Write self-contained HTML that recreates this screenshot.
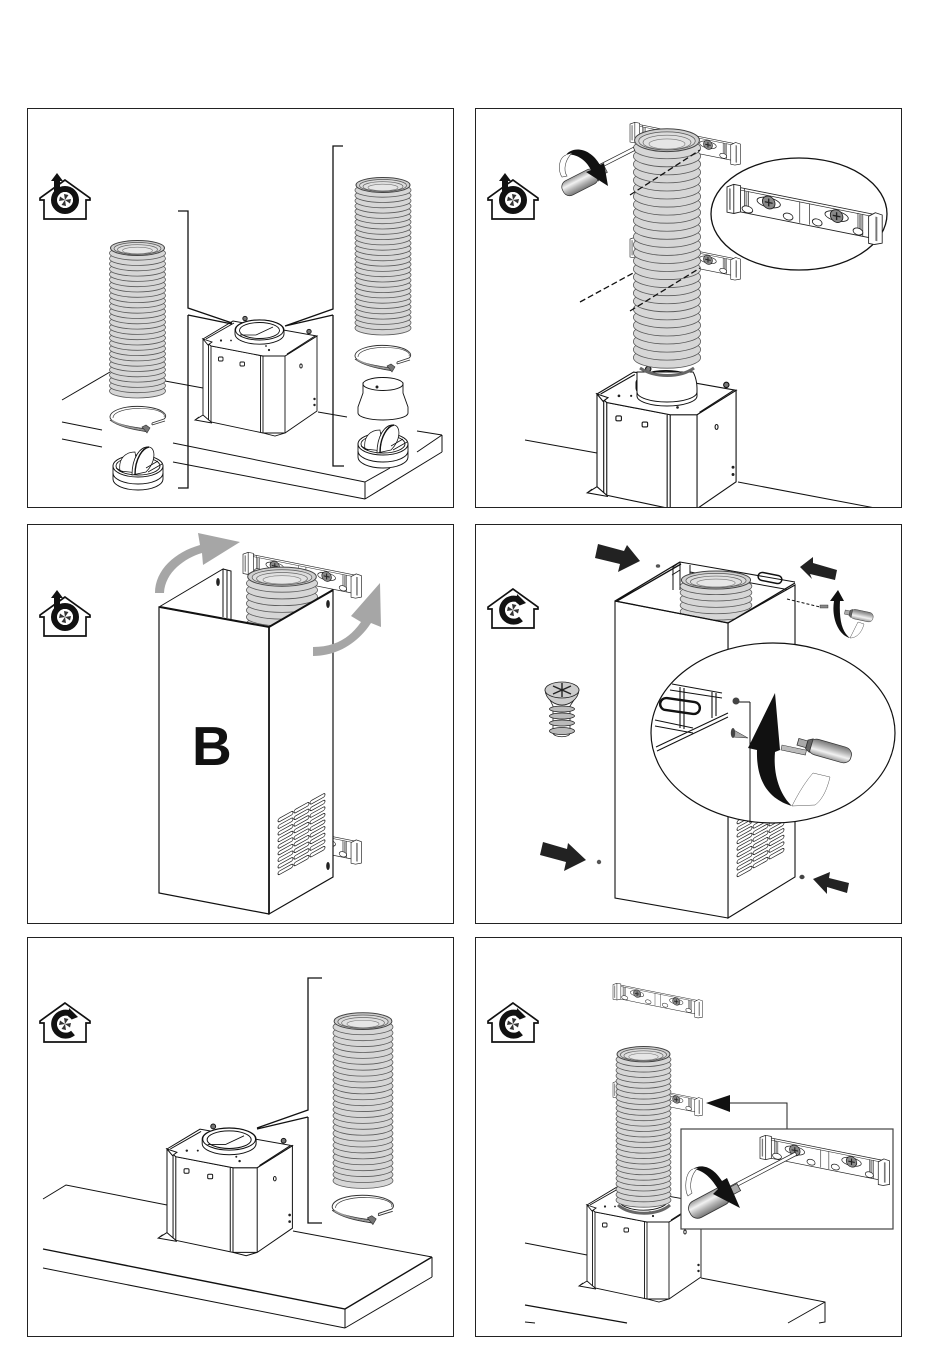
<!DOCTYPE html>
<html><head><meta charset="utf-8"><style>html,body{margin:0;padding:0;background:#fff}svg{display:block}</style></head><body>
<svg xmlns="http://www.w3.org/2000/svg" width="950" height="1364" viewBox="0 0 950 1364">
<defs>
<linearGradient id="hg" x1="0" y1="0" x2="0" y2="1"><stop offset="0" stop-color="#999"/><stop offset=".35" stop-color="#f2f2f2"/><stop offset=".65" stop-color="#b5b5b5"/><stop offset="1" stop-color="#777"/></linearGradient>
<clipPath id="c2"><rect x="476" y="109" width="425" height="398"/></clipPath>
<clipPath id="c3"><rect x="28" y="525" width="425" height="398"/></clipPath>
<clipPath id="c6"><rect x="476" y="938" width="425" height="386"/></clipPath>

<ellipse id="r" cx="0" cy="0" rx="28" ry="7" fill="#d6d6d6" stroke="#5a5a5a" stroke-width=".8" vector-effect="non-scaling-stroke"/>
<g id="duct">
<use href="#r" y="153"/><use href="#r" y="147.7"/><use href="#r" y="142.4"/><use href="#r" y="137.1"/><use href="#r" y="131.8"/><use href="#r" y="126.5"/><use href="#r" y="121.2"/><use href="#r" y="115.9"/><use href="#r" y="110.6"/><use href="#r" y="105.3"/><use href="#r" y="100"/><use href="#r" y="94.7"/><use href="#r" y="89.4"/><use href="#r" y="84.1"/><use href="#r" y="78.8"/><use href="#r" y="73.5"/><use href="#r" y="68.2"/><use href="#r" y="62.9"/><use href="#r" y="57.6"/><use href="#r" y="52.3"/><use href="#r" y="47"/><use href="#r" y="41.7"/><use href="#r" y="36.4"/><use href="#r" y="31.1"/><use href="#r" y="25.8"/><use href="#r" y="20.5"/><use href="#r" y="15.2"/>
<ellipse cx="0" cy="10" rx="27" ry="7.5" fill="#cfcfcf" stroke="#444" stroke-width="1" vector-effect="non-scaling-stroke"/>
<ellipse cx="0" cy="10.5" rx="23.5" ry="6" fill="#dcdcdc" stroke="#555" stroke-width=".7" vector-effect="non-scaling-stroke"/>
<ellipse cx="0" cy="11.5" rx="20" ry="4.8" fill="#e0e0e0" stroke="#666" stroke-width=".7" vector-effect="non-scaling-stroke"/>
<ellipse cx="0" cy="12.5" rx="15" ry="3.3" fill="#e6e6e6" stroke="#777" stroke-width=".6" vector-effect="non-scaling-stroke"/>
</g>

<g id="box" stroke="#111" stroke-width=".9" fill="#fff">
<path d="M0,76 L-8,81 L9,84 M60,94 L72,97 L82,94 M-8,81 L-4,78"/>
<polygon points="0,0 8,7 60,17 82,17 114,-3 114,72 82,94 60,94 8,83 0,76"/>
<polygon points="0,0 30,-18 114,-3 82,17 60,17 8,7"/>
<path d="M3,0 L31,-16 M84,15 L112,-3 M5.5,5 V81 M8,7 V83 M57.5,17 V93 M60,17 V94 M82,17 V94" fill="none"/>
<path d="M0,0 L5,6 L9,3 Z" fill="#fff"/>
<circle cx="42" cy="-20.5" r="2.2" fill="#777"/><circle cx="106" cy="-7.5" r="2.2" fill="#777"/>
<path d="M32,-5 V-9 A24,10 0 0 1 81,-9 V-5 A24,10 0 0 1 32,-5 Z"/>
<ellipse cx="56.5" cy="-9" rx="24" ry="10"/><ellipse cx="56.5" cy="-8.5" rx="20" ry="8"/>
<path d="M53,-4 L70,-12 M37,-4 H53" fill="none" stroke-width=".8"/>
<g fill="#222" stroke="none"><circle cx="18" cy="1.5" r="1.1"/><circle cx="28" cy="1.5" r=".9"/><circle cx="66" cy="11" r="1.1"/><circle cx="63" cy="7" r=".9"/><circle cx="111.5" cy="60" r="1.2"/><circle cx="111.5" cy="66" r="1.2"/></g>
<rect x="15.5" y="18" width="4.5" height="4" rx="1"/><rect x="37" y="23" width="4.5" height="4" rx="1"/><ellipse cx="98" cy="27" rx="1.2" ry="2"/>
</g>

<g id="clamp" fill="none" stroke="#333">
<path d="M14,5 L26,1 C31,-3 25,-10 4,-11.5 C-15,-12.5 -28,-7 -28,-1 C-28,4 -15,8 8,11" stroke-width=".9"/>
<path d="M-25,0 C-25,-6 -12,-10 4,-9.5 C20,-9 28,-5 26,-1" stroke-width=".6"/>
<path d="M-28,2 C-20,8 -8,11 8,13.5" stroke-width=".9"/>
<path d="M-26,2.5 C-18,7.5 -8,10 7,12" stroke-width="1.6" stroke="#999"/>
<path d="M14,7 L27,3" stroke-width=".9"/><path d="M14,5 V7" stroke-width=".8"/>
<path d="M4,9 L9,15 L12,10 L8,7 Z" fill="#777" stroke-width=".6"/>
</g>

<g id="damper" stroke="#111" stroke-width=".9" fill="#fff">
<path d="M-25,0 V13 A25,11 0 0 0 25,13 V0 Z"/>
<path d="M-25,7 A25,11 0 0 0 25,7" fill="none"/>
<ellipse cx="0" cy="0" rx="25" ry="11"/>
<ellipse cx="0" cy="0" rx="22" ry="9"/>
<path d="M-18,5 C-20,-8 -12,-14 -3,-14 L0,7 Z" stroke-width=".7"/>
<path d="M-6,9 C-6,-8 2,-20 11,-19 C18,-18 18,-4 8,6 Z" stroke-width=".8"/>
<path d="M-3,9 C-3,-8 5,-18 11,-19" fill="none" stroke-width="1.4"/>
<path d="M10,6 L24,-2 M8,2 L20,-5 M-22,2 L-15,6" fill="none" stroke-width=".8"/>
</g>

<g id="brk" stroke="#222" stroke-width=".9" fill="#fff" transform="skewY(11.3)">
<rect x="8" y="1" width="142" height="25"/>
<path d="M8,3.5 H150 M18,1 V26 M22,3 V26 M75,3 V25 M85,3 V25 M135,3 V26 M140,3 V26" fill="none" stroke-width=".7"/>
<path d="M19,4 H21 V24 H19 Z M136,4 H139 V24 H136 Z" fill="#999" stroke="none"/>
<path d="M0,3 L7,-1 L14,-1 V26 L7,29 L0,29 Z"/><path d="M3,4 V26" fill="none" stroke="#777" stroke-width="1.6"/>
<path d="M7,-1 V29" fill="none"/>
<path d="M146,4 L153,-1 L160,0 V29 L152,32 L146,32 Z"/><path d="M154,3 V28" fill="none" stroke="#777" stroke-width="2"/>
<ellipse cx="43" cy="10.5" rx="12" ry="5"/><ellipse cx="113" cy="10.5" rx="12" ry="5"/>
<circle cx="43" cy="10.5" r="6.5" fill="#888"/><circle cx="113" cy="10.5" r="6.5" fill="#888"/>
<path d="M39,10.5 H47 M43,6.5 V14.5 M109,10.5 H117 M113,6.5 V14.5" stroke="#222" stroke-width="1.4" fill="none"/>
<ellipse cx="21" cy="22" rx="5.5" ry="3.5"/><ellipse cx="63" cy="21" rx="5" ry="3.5"/><ellipse cx="93" cy="21" rx="5" ry="3.5"/><ellipse cx="135" cy="22" rx="5" ry="3.5"/>
</g>

<g id="sd" stroke="#333" stroke-width=".7">
<rect x="0" y="-8" width="38" height="16" rx="7" fill="url(#hg)"/>
<path d="M36,-7 L40,-4.5 V4.5 L36,7 Z" fill="#666"/>
<rect x="40" y="-3.5" width="8" height="7" fill="#aaa"/>
</g>

<g id="fan"><circle cx="25" cy="30" r="8" fill="#fff"/>
<path d="M25,30 L24,24 L28.5,25 Z M25,30 L31,29 L30,33.5 Z M25,30 L26,36 L21.5,35 Z M25,30 L19,31 L20,26.5 Z" fill="#333"/></g>

<g id="hb">
<path d="M25,10 L0,28 V30 H4 V49 H46 V30 H50 V28 Z" fill="#fff" stroke="#111" stroke-width="1.7"/>
<path d="M17,3 L23,11 H20 V36 H14 V11 H11 Z" fill="#111"/>
<circle cx="25" cy="30" r="11" fill="none" stroke="#111" stroke-width="6"/>
<use href="#fan"/>
</g>
<g id="hc">
<path d="M25,10 L0,28 V30 H4 V49 H46 V30 H50 V28 Z" fill="#fff" stroke="#111" stroke-width="1.7"/>
<path d="M33,40 A11.5,11.5 0 1 1 30,20.5" fill="none" stroke="#111" stroke-width="6"/>
<path d="M29,15 L38,24 L28,28 Z" fill="#111"/>
<g transform="translate(0,1)"><use href="#fan"/></g>
</g>

<g id="col" fill="#fff" stroke="#222" stroke-width=".8">
<rect y="0" width="15" height="3.5" rx="1.7"/><rect y="6.6" width="15" height="3.5" rx="1.7"/><rect y="13.2" width="15" height="3.5" rx="1.7"/><rect y="19.8" width="15" height="3.5" rx="1.7"/><rect y="26.4" width="15" height="3.5" rx="1.7"/><rect y="33" width="15" height="3.5" rx="1.7"/><rect y="39.6" width="15" height="3.5" rx="1.7"/><rect y="46.2" width="15" height="3.5" rx="1.7"/><rect y="52.8" width="15" height="3.5" rx="1.7"/>
</g>
<g id="louv"><use href="#col"/><use href="#col" x="16"/><use href="#col" x="32"/></g>
</defs>

<rect width="950" height="1364" fill="#fff"/>

<g fill="none" stroke="#222" stroke-width="1">
<rect x="27.5" y="108.5" width="426" height="399"/>
<rect x="475.5" y="108.5" width="426" height="399"/>
<rect x="27.5" y="524.5" width="426" height="399"/>
<rect x="475.5" y="524.5" width="426" height="399"/>
<rect x="27.5" y="937.5" width="426" height="399"/>
<rect x="475.5" y="937.5" width="426" height="399"/>
</g>

<!-- Panel 1 -->
<use href="#hb" x="40" y="170"/>
<g fill="none" stroke="#111" stroke-width="1">
<path d="M62,400 L110,372 M165,381 L203,388 M62,422 L102,430 M62,439 L102,447 M173,443 L365,482 M173,462 L365,499 M365,482 L390,468 M365,482 V499 M365,499 L442,452 M417,431 L442,435 M417,452 L442,435 M442,435 V452 M318,412 L347,417"/>
</g>
<use href="#box" transform="translate(203,339)"/>
<g fill="none" stroke="#111" stroke-width="1.3">
<path d="M178,211 H188 V308 L232,323 M188,315 L232,324 M188,315 V488 H178"/>
<path d="M343,146 H333 V309 L285,326 M333,315 L285,326 M333,315 V466 H344"/>
</g>
<use href="#duct" transform="translate(137.5,238)"/>
<use href="#duct" transform="translate(383,175)"/>
<use href="#clamp" transform="translate(138,418)"/>
<use href="#clamp" transform="translate(383,357)"/>
<use href="#damper" transform="translate(138,466)"/>
<use href="#damper" transform="translate(383,444)"/>
<g stroke="#111" stroke-width=".9" fill="#fff">
<path d="M363,383 V393 L358,407 V413 A25,7 0 0 0 408,413 V407 L403,393 V383 Z"/>
<ellipse cx="383" cy="384" rx="20" ry="6.5"/>
<circle cx="377" cy="387" r="1" fill="#555"/>
</g>

<!-- Panel 2 -->
<g clip-path="url(#c2)">
<use href="#hb" x="488" y="170"/>
<path d="M525,440 L597,453 M738,482 L875,508" fill="none" stroke="#111" stroke-width="1"/>
<use href="#box" transform="translate(597,394) scale(1.22)"/>
<use href="#brk" transform="translate(630,122) scale(.69)"/>
<use href="#brk" transform="translate(630,237) scale(.69)"/>
<g stroke="#111" stroke-width="1" fill="#fff">
<path d="M637,372 C637,385 637,392 637,396 A30,10 0 0 0 697,396 V388 C697,382 695,375 693,372 Z"/>
<path d="M637,392 A30,10 0 0 0 697,392" fill="none"/>
</g>
<use href="#duct" transform="translate(667,125) scale(1.2,1.52)"/>
<path d="M640,368 C655,378 680,378 694,368" fill="none" stroke="#666" stroke-width="3"/>
<g fill="none" stroke="#111" stroke-width="1.3" stroke-dasharray="6 3">
<path d="M630,195 L700,150 M580,302 L635,272 M630,311 L700,268"/>
</g>
<rect x="600" y="163" width="38" height="3.5" fill="#fff" stroke="#222" stroke-width=".7" transform="rotate(-27 603 165)"/>
<use href="#sd" transform="translate(563,191) rotate(-27)"/>
<path d="M566,155 C572,146 590,147 600,165 L604,163 L608,186 L586,172 L591,170 C585,158 574,153 566,155 Z" fill="#111"/>
<path d="M566,155 C558,158 558,172 562,177 L567,176 C563,170 565,160 572,153" fill="#fff" stroke="#444" stroke-width=".6"/>
<ellipse cx="799" cy="214" rx="88" ry="56" fill="#fff" stroke="#111" stroke-width="1.3"/>
<use href="#brk" transform="translate(727,184) scale(.97)"/>
</g>

<!-- Panel 3 -->
<g clip-path="url(#c3)">
<use href="#hb" x="40" y="587"/>
<use href="#brk" transform="translate(243,552) scale(.74)"/>
<use href="#brk" transform="translate(243,818) scale(.74)"/>
<use href="#duct" transform="translate(282,564) scale(1.27)"/>
<g stroke="#111" fill="#fff" stroke-width="1.2">
<path d="M159,607 L223,569 V617 M223,569 L231,571 V620 M227,570 V618" fill="none" stroke-width="1"/>
<polygon points="269,627 333,590 333,877 269,914"/>
<polygon points="159,607 269,627 269,914 159,893"/>
<path d="M160,607 L269,627 L333,590" fill="none" stroke-width="2"/>
<path d="M269,627 V914" stroke-width="1.7"/>
<ellipse cx="218" cy="582" rx="1.8" ry="4" fill="#222" stroke="none"/>
<ellipse cx="328" cy="604" rx="1.8" ry="4" fill="#222" stroke="none"/>
<ellipse cx="328" cy="866" rx="1.8" ry="4" fill="#222" stroke="none"/>
</g>
<use href="#louv" transform="translate(278,819) skewY(-29)"/>
<text x="192" y="765" font-family="'Liberation Sans',sans-serif" font-weight="700" font-size="55" fill="#111">B</text>
<path d="M155,593 C155,570 175,552 200,545 L198,533 L240,542 L203,565 L202,553 C185,558 165,572 164,593 Z" fill="#a6a6a6"/>
<path d="M313,647 C335,647 350,638 361,622 L351,616 L380,583 L381,627 L371,623 C358,643 337,656 313,656 Z" fill="#a6a6a6"/>
</g>

<!-- Panel 4 -->
<use href="#hc" x="488" y="579"/>
<g fill="none" stroke="#111" stroke-width="1">
<path d="M673,567 L680,562 L795,582 M680,562 V590 M673,567 V590 M690,565 V585 M672,575 L680,570 M690,572 L790,590"/>
<rect x="758" y="574" width="24" height="8" rx="4" transform="rotate(11 770 578)" stroke-width="1.5"/>
</g>
<use href="#duct" transform="translate(716,568) scale(1.28,1.2)"/>
<g stroke="#111" fill="#fff" stroke-width="1.1">
<polygon points="728,623 795,585 795,877 728,918"/>
<polygon points="615,601 728,623 728,918 615,898"/>
<path d="M615,601 L680,562 M617,601 L681,564 M615,601 L728,623 L795,583" fill="none" stroke-width="1.3"/>
</g>
<use href="#louv" transform="translate(737,821) skewY(-29)"/>
<g fill="#222">
<polygon points="598,544 595,558 620,564 618,572 640,561 627,545 624,551"/>
<polygon points="800,567 813,557 813,563 837,570 835,580 810,574 812,579"/>
<polygon points="540,855 543,842 567,849 568,843 586,860 564,871 566,862"/>
<polygon points="813,879 830,872 829,878 849,883 847,893 827,887 827,894"/>
<ellipse cx="658" cy="566" rx="2.2" ry="1.8" fill="#555"/><ellipse cx="599" cy="862" rx="2.2" ry="2.2" fill="#555"/><ellipse cx="802" cy="877" rx="2.6" ry="2.2" fill="#444"/>
</g>
<path d="M787,599 L820,607" stroke="#111" stroke-dasharray="3 2" fill="none"/>
<rect x="820" y="605" width="8" height="3" fill="#888" stroke="#222" stroke-width=".4"/>
<use href="#sd" transform="translate(873,618) rotate(192) scale(.6)"/>
<path d="M838,590 L844,601 L840,601 C839,620 842,632 850,638 C840,636 831,620 834,601 L830,601 Z" fill="#111"/>
<path d="M850,638 L858,622 L864,624 C862,632 857,638 850,638 Z" fill="#fff" stroke="#555" stroke-width=".5"/>
<g stroke="#222" stroke-width=".8" fill="#fff">
<path d="M550,700 L574,700 L570,706 V733 C570,738 554,738 553,733 V706 Z"/>
<g fill="#bbb"><ellipse cx="562" cy="709" rx="12.5" ry="3"/><ellipse cx="562" cy="716" rx="12.5" ry="3"/><ellipse cx="562" cy="723" rx="12.5" ry="3"/><ellipse cx="562" cy="731" rx="12.5" ry="3.5"/></g>
<path d="M545,690 C546,700 555,705 562,705 C569,705 578,700 579,690 Z" fill="#ccc"/>
<ellipse cx="562" cy="690" rx="17" ry="8" fill="#ccc"/>
<path d="M553,686 L571,694 M571,686 L553,694 M562,683 V697" stroke-width="1.4" fill="none"/>
</g>
<ellipse cx="773" cy="733" rx="122" ry="90" fill="#fff" stroke="#111" stroke-width="1.2"/>
<g fill="none" stroke="#111" stroke-width="1.1">
<path d="M672,684 L722,693 M670,690 L722,698 M655,720 L693,728 M655,726 L693,733 M680,687 V728 M684,688 V729 M712,692 V718 M716,693 V716"/>
<rect x="660" y="700" width="40" height="12" rx="6" stroke-width="2.4" transform="rotate(8 680 706)"/>
<path d="M656,747 L728,713 M657,751 L728,717 M750,702 V823 M737,702 H750" stroke-width="1"/>
</g>
<circle cx="736" cy="701" r="3.5" fill="#444"/>
<path d="M732,729 L748,738 L733,737 Z" fill="#aaa" stroke="#222" stroke-width=".5"/><ellipse cx="733" cy="733" rx="2.2" ry="5" fill="#444"/>
<rect x="782" y="745" width="25" height="5" fill="#bbb" stroke="#222" stroke-width=".5" transform="rotate(12 782 745)"/>
<use href="#sd" transform="translate(851,757) rotate(196) scale(1.15,1)"/>
<path d="M775,693 L780,750 L775,752 C773,775 780,795 792,806 C772,800 756,785 757,750 L748,748 Z" fill="#111"/>
<path d="M792,806 C800,790 807,780 813,773 L830,777 C827,790 822,800 815,805 Z" fill="#fff" stroke="#555" stroke-width=".5"/>

<!-- Panel 5 -->
<use href="#hc" x="40" y="993"/>
<g fill="none" stroke="#111" stroke-width="1">
<path d="M43,1199 L66,1185 L167,1205 M293,1231 L432,1257 M345,1309 V1328 M432,1257 V1277 M43,1268 L345,1328 M345,1328 L432,1277"/>
<path d="M43,1249 L345,1309 L432,1257" stroke-width="1.4"/>
</g>
<use href="#box" transform="translate(167,1149) scale(1.1)"/>
<g fill="none" stroke="#111" stroke-width="1.3">
<path d="M322,978 H308 V1110 L257,1128 M308,1117 L257,1129 M308,1117 V1223 H322"/>
</g>
<use href="#duct" transform="translate(363,1010) scale(1.07,1.115)"/>
<use href="#clamp" transform="translate(363,1208) scale(1.1)"/>

<!-- Panel 6 -->
<g clip-path="url(#c6)">
<use href="#hc" x="488" y="993"/>
<g fill="none" stroke="#111" stroke-width="1">
<path d="M525,1243 L587,1255 M701,1278 L825,1302 L825,1322 L819,1323 M825,1302 L788,1323 M525,1322 L535,1323"/>
<path d="M525,1305 L627,1323" stroke-width="1.2"/>
</g>
<use href="#box" transform="translate(587,1205)"/>
<use href="#brk" transform="translate(613,983) scale(.56)"/>
<use href="#brk" transform="translate(613,1081) scale(.56)"/>
<use href="#duct" transform="translate(643.5,1044) scale(.98,1.02)"/>
<path d="M618,1205 C630,1216 658,1216 670,1205" fill="none" stroke="#666" stroke-width="3"/>
</g>
<polygon points="706,1103 730,1095 730,1112" fill="#111"/>
<path d="M730,1103 H787 V1129" fill="none" stroke="#222" stroke-width="1"/>
<rect x="681" y="1129" width="212" height="100" fill="#fff" stroke="#444" stroke-width="1.2"/>
<use href="#brk" transform="translate(760,1135) scale(.81)"/>
<rect x="727" y="1188" width="78" height="3.5" fill="#fff" stroke="#222" stroke-width=".7" transform="rotate(-27.6 727 1190)"/>
<use href="#sd" transform="translate(690,1213) rotate(-28) scale(1.15)"/>
<path d="M693,1169 C700,1164 712,1165 722,1181 L727,1178 L740,1208 L713,1194 L718,1189 C710,1176 702,1170 693,1169 Z" fill="#111"/>
<path d="M693,1169 C685,1172 684,1190 688,1196 L692,1193 C689,1186 691,1174 698,1168" fill="#fff" stroke="#444" stroke-width=".6"/>
</svg>
</body></html>
